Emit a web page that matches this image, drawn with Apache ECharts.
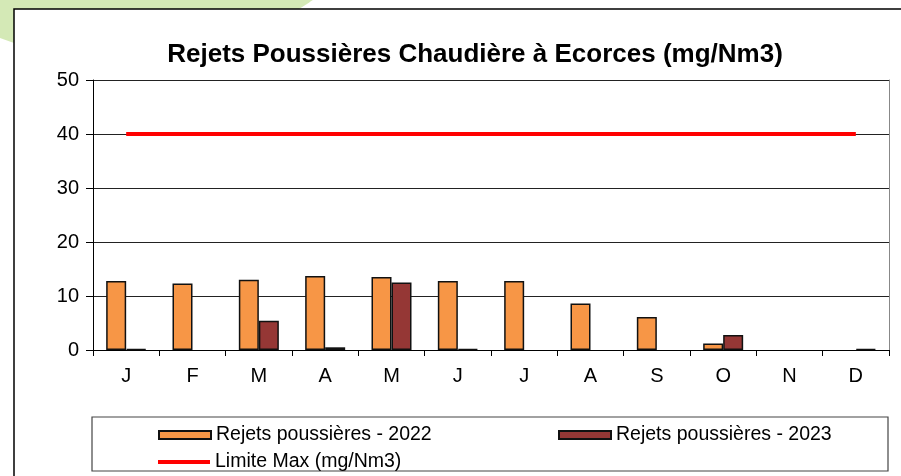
<!DOCTYPE html>
<html>
<head>
<meta charset="utf-8">
<script src="https://cdn.jsdelivr.net/npm/echarts@6/dist/echarts.min.js"></script>
<style>
  html, body { margin: 0; padding: 0; background: #fff; }
  #chart { width: 901px; height: 476px; }
</style>
</head>
<body>
<div id="chart"></div>
<script>
// mois
const months = ['J', 'F', 'M', 'A', 'M', 'J', 'J', 'A', 'S', 'O', 'N', 'D']
// valeurs (mg/Nm3)
const rejets2022 = [12.8, 12.3, 13.0, 13.7, 13.5, 12.8, 12.8, 8.6, 6.1, 1.2, null, null]
const rejets2023 = [0.15, null, 5.4, 0.5, 12.5, 0.15, null, null, null, 2.8, null, 0.15]
const limiteMax = [40, 40, 40, 40, 40, 40, 40, 40, 40, 40, 40, 40]
const yTicks = { min: 0, max: 50, interval: 10 }

const myChart = echarts.init(document.getElementById('chart'))
const font = 'Liberation Sans, Arial, sans-serif'
const narrow = 'Liberation Sans Narrow, Liberation Sans, Arial, sans-serif'
const legendText = { fontFamily: narrow, fontSize: 19.5, color: '#000' }

myChart.setOption({
  animation: false,
  textStyle: { fontFamily: font },
  title: {
    text: 'Rejets Poussières Chaudière à Ecorces (mg/Nm3)',
    left: 470,
    top: 37,
    textAlign: 'center',
    textStyle: { fontFamily: font, fontSize: 26, fontWeight: 'bold', color: '#000' }
  },
  graphic: [
    {
      type: 'circle',
      shape: { cx: 120, cy: -280, r: 340 },
      style: { fill: '#d4e9b6' },
      z: -10
    },
    {
      type: 'rect',
      shape: { x: 14, y: 9, width: 900, height: 480 },
      style: { fill: '#fff', stroke: '#000', lineWidth: 1.5 },
      z: -9
    },
    {
      type: 'rect',
      shape: { x: 92, y: 417, width: 796, height: 54 },
      style: { fill: '#fff', stroke: '#444', lineWidth: 1.2 },
      z: -5
    }
  ],
  legend: [
    {
      data: [{ name: 'Rejets poussières - 2022', icon: 'rect' }],
      left: 153, top: 420,
      itemWidth: 52, itemHeight: 8,
      textStyle: legendText
    },
    {
      data: [{ name: 'Rejets poussières - 2023', icon: 'rect' }],
      left: 553, top: 420,
      itemWidth: 52, itemHeight: 8,
      textStyle: legendText
    },
    {
      data: [{ name: 'Limite Max (mg/Nm3)', icon: 'rect' }],
      left: 153, top: 447,
      itemWidth: 52, itemHeight: 4,
      itemStyle: { borderWidth: 0 },
      textStyle: legendText
    }
  ],
  grid: { left: 93, right: 12, top: 80, bottom: 126 },
  xAxis: {
    type: 'category',
    data: months,
    axisLine: { lineStyle: { color: '#000', width: 1 } },
    axisTick: { show: true, length: 6, lineStyle: { color: '#000' } },
    axisLabel: { fontSize: 20, color: '#000', margin: 16, fontFamily: font }
  },
  yAxis: [
    {
      type: 'value',
      min: yTicks.min, max: yTicks.max, interval: yTicks.interval,
      axisLine: { show: true, lineStyle: { color: '#000', width: 1 } },
      axisTick: { show: true, length: 7, lineStyle: { color: '#000' } },
      axisLabel: { fontSize: 20, color: '#000', margin: 14, fontFamily: font },
      splitLine: { lineStyle: { color: '#222', width: 1 } }
    },
    {
      type: 'value',
      position: 'right',
      min: yTicks.min, max: yTicks.max, interval: yTicks.interval,
      axisLine: { show: true, lineStyle: { color: '#888', width: 1 } },
      axisTick: { show: false },
      axisLabel: { show: false },
      splitLine: { show: false }
    }
  ],
  series: [
    {
      name: 'Rejets poussières - 2022',
      type: 'bar',
      barWidth: 20,
      barGap: '0%',
      data: rejets2022,
      itemStyle: { color: '#f79646', borderColor: '#111', borderWidth: 1.5 }
    },
    {
      name: 'Rejets poussières - 2023',
      type: 'bar',
      barWidth: 20,
      barGap: '0%',
      data: rejets2023,
      itemStyle: { color: '#953735', borderColor: '#111', borderWidth: 1.5 }
    },
    {
      name: 'Limite Max (mg/Nm3)',
      type: 'line',
      data: limiteMax,
      symbol: 'none',
      lineStyle: { color: '#ff0000', width: 4 },
      itemStyle: { color: '#ff0000' },
      z: 5
    }
  ]
})
</script>
</body>
</html>
